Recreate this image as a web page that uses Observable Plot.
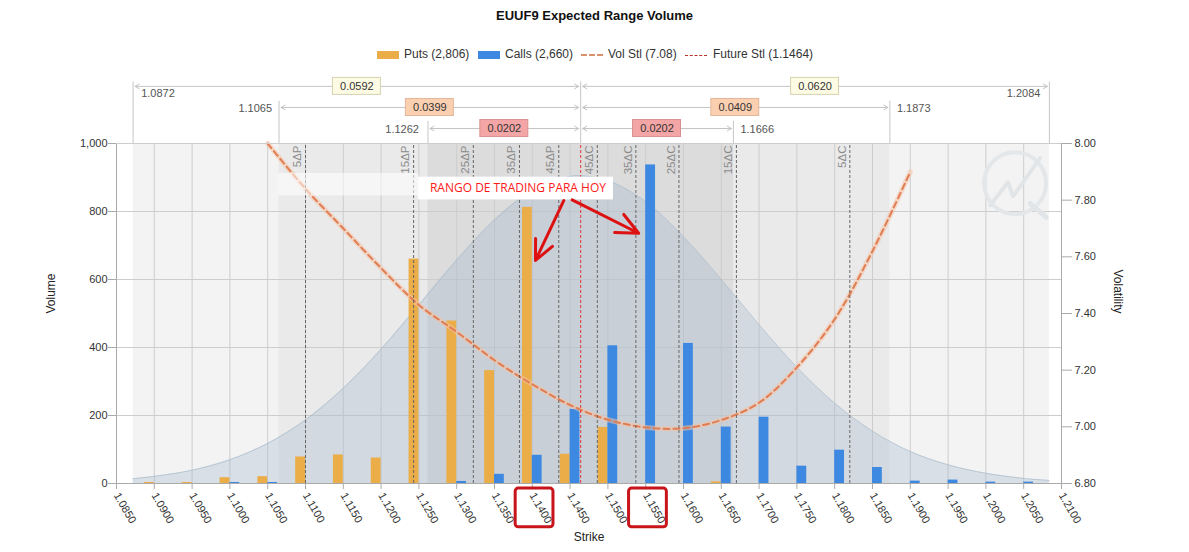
<!DOCTYPE html>
<html><head><meta charset="utf-8">
<script src="https://cdn.jsdelivr.net/npm/d3@7"></script>
<script src="https://cdn.jsdelivr.net/npm/@observablehq/plot@0.6"></script>
<style>
body{margin:0;background:#fff;font-family:"Liberation Sans",Arial,sans-serif;}
#wrap{position:relative;width:1189px;height:552px;overflow:hidden;background:#fff;}
#title{position:absolute;top:8px;left:0;width:1189px;text-align:center;font-weight:bold;font-size:13px;line-height:16px;color:#111;}
.lg{position:absolute;top:47px;font-size:12px;line-height:14px;color:#333;white-space:nowrap;}
.sw{position:absolute;top:51px;height:8px;width:22px;}
.ln{position:absolute;width:22px;height:0;}
#chart{position:absolute;top:68px;left:0;}
</style></head>
<body>
<div id="wrap">
  <div id="title">EUUF9 Expected Range Volume</div>
  <div id="legend"></div>
  <div id="chart"></div>
</div>
<script>
// ---------- data ----------
const strikes = [1.0900,1.0950,1.1000,1.1050,1.1100,1.1150,1.1200,1.1250,1.1300,1.1350,1.1400,1.1450,
                 1.1500,1.1550,1.1600,1.1650,1.1700,1.1750,1.1800,1.1850,1.1900,1.1950,1.2000,1.2050];
const putVolume  = [3,3,17,20,78,84,75,660,478,332,812,86,165,0,0,5,0,0,0,0,0,0,0,0];
const callVolume = [0,0,3,3,0,0,0,0,6,27,83,218,405,937,412,166,195,51,98,47,7,10,4,4];

const volStrikes = [1.105,1.110,1.115,1.120,1.125,1.130,1.135,1.140,1.145,1.150,1.155,1.160,1.165,1.170,1.175,1.180,1.185,1.190];
const volValues  = [8.00,7.84,7.70,7.56,7.43,7.335,7.235,7.15,7.077,7.025,6.998,6.995,7.024,7.085,7.21,7.38,7.62,7.90];

const distStrikes = [1.0872,1.0900,1.0950,1.1000,1.1050,1.1100,1.1150,1.1200,1.1250,1.1300,1.1350,1.1400,1.1450,1.1464,
                     1.1500,1.1550,1.1600,1.1650,1.1700,1.1750,1.1800,1.1850,1.1900,1.1950,1.2000,1.2050,1.2084];
const distValues  = [14,21,39,70,118,187,280,395,525,657,775,862,903,905,891,829,726,600,467,342,236,154,94,55,30,15,9];

const deltaLabels  = ["5ΔP","15ΔP","25ΔP","35ΔP","45ΔP","45ΔC","35ΔC","25ΔC","15ΔC","5ΔC"];
const deltaStrikes = [1.1100,1.1243,1.1322,1.1383,1.1435,1.1486,1.1537,1.1594,1.1670,1.1820];

const futureStl = 1.1464;
const rangeLow       = [1.0872,1.1065,1.1262];
const rangeHigh      = [1.2084,1.1873,1.1666];
const rangeLowWidth  = ["0.0592","0.0399","0.0202"];
const rangeHighWidth = ["0.0620","0.0409","0.0202"];

const xTickLabels = ["1.0850","1.0900","1.0950","1.1000","1.1050","1.1100","1.1150","1.1200","1.1250","1.1300",
  "1.1350","1.1400","1.1450","1.1500","1.1550","1.1600","1.1650","1.1700","1.1750","1.1800","1.1850","1.1900",
  "1.1950","1.2000","1.2050","1.2100"];
const volumeTicks = [0,200,400,600,800,1000];
const volTicks = [6.8,7.0,7.2,7.4,7.6,7.8,8.0];
const highlightStrikes = [1.1400,1.1550];

const legendLabels = ["Puts (2,806)","Calls (2,660)","Vol Stl (7.08)","Future Stl (1.1464)"];

const annotationText = "RANGO DE TRADING PARA HOY";
const annotationArrows = [
  {x1:1.14416, y1:832, x2:1.14042, y2:656},
  {x1:1.14527, y1:834, x2:1.15407, y2:736}
];
const watermarkCircle = [{x:1.20386, y:883}];
const watermarkBolt = [{x:1.20056,y:818},{x:1.20293,y:886},{x:1.20360,y:845},{x:1.20717,y:957}];
const watermarkTail = [{x:1.20585,y:824},{x:1.20797,y:783}];

// ---------- styles ----------
const PUT = "#ebad47", CALL = "#3d88e0";
const VOLC = "#e07d52";
const boxFill = ["#fdfbe3","#fbd0b1","#f4a5a5"];
const boxStroke = ["#d6d2b0","#e3b598","#d98f8f"];

// ---------- legend ----------
const legend = document.getElementById("legend");
const L = [
  {kind:"sw", color:PUT, x:377, tx:404},
  {kind:"sw", color:CALL, x:478, tx:505},
  {kind:"ln", style:"border-top:2px dashed #d9916c;top:54px;", x:581, tx:608},
  {kind:"ln", style:"border-top:1px dashed #b8322c;top:55px;", x:685, tx:713}
];
L.forEach((d,i)=>{
  const s = document.createElement("div");
  s.className = d.kind;
  if (d.kind === "sw") { s.style.left = d.x + "px"; s.style.background = d.color; }
  else s.setAttribute("style", d.style + "left:" + d.x + "px");
  legend.appendChild(s);
  const t = document.createElement("div");
  t.className = "lg"; t.style.left = d.tx + "px"; t.textContent = legendLabels[i];
  legend.appendChild(t);
});

// ---------- derived tables ----------
const volToY = v => (v - 6.8) / (8.0 - 6.8) * 1000;
const yToVol = y => 6.8 + y / 1000 * (8.0 - 6.8);
const bw = 0.0013;
const puts  = strikes.map((s,i)=>({s, v: putVolume[i]})).filter(d=>d.v>0);
const calls = strikes.map((s,i)=>({s, v: callVolume[i]})).filter(d=>d.v>0);
const vol = volStrikes.map((s,i)=>({s, y: volToY(volValues[i])}));
const dist = distStrikes.map((s,i)=>({s, v: distValues[i]}));
const deltas = deltaStrikes.map((s,i)=>({s, label: deltaLabels[i]}));
const xTicks = xTickLabels.map(Number);

const rowY = [1168, 1106, 1044];
const rowTop = [1181, 1124, 1065];
const rows = rangeLow.map((lo,i)=>({i, lo, hi: rangeHigh[i], y: rowY[i], top: rowTop[i]}));
const boxes = rows.flatMap(r => [
  {cx:(r.lo+futureStl)/2, y:r.y, t:rangeLowWidth[r.i], i:r.i},
  {cx:(futureStl+r.hi)/2, y:r.y, t:rangeHighWidth[r.i], i:r.i}
]);
const segs = rows.flatMap(r => {
  const m1 = (r.lo+futureStl)/2, m2 = (futureStl+r.hi)/2;
  return [{x1:m1,x2:r.lo,y:r.y},{x1:m1,x2:futureStl,y:r.y},{x1:m2,x2:futureStl,y:r.y},{x1:m2,x2:r.hi,y:r.y}];
});
const boundRules = rows.flatMap(r => [{x:r.lo, top:r.top},{x:r.hi, top:r.top}]).concat([{x:futureStl, top:rowTop[0]}]);
const fmt4 = d3.format(".4f");

const bands = [
  {x1:rangeLow[0], x2:rangeHigh[0], fill:"#f3f3f3"},
  {x1:rangeLow[1], x2:rangeHigh[1], fill:"#eaeaea"},
  {x1:rangeLow[2], x2:rangeHigh[2], fill:"#dcdcdc"}
];

const FONT = '"Liberation Sans", Arial, sans-serif';
const bText = {text: d=>fmt4(d.x), fill:"#555", fontSize:11};

const chart = Plot.plot({
  width: 1189, height: 484,
  marginLeft: 116, marginRight: 128, marginTop: 75, marginBottom: 69,
  x: {domain:[1.085,1.21], axis:null},
  y: {domain:[0,1000]},
  style: {fontFamily: FONT, fontSize:"11px", color:"#333", background:"transparent", overflow:"visible"},
  marks: [
    // background bands
    Plot.rect(bands, {x1:"x1", x2:"x2", y1:0, y2:1000, fill: d=>d.fill}),
    // grid
    Plot.ruleX(xTicks, {y1:0, y2:1000, stroke:"#cdcdcd", strokeWidth:1}),
    Plot.ruleY(volumeTicks.slice(1), {x1:1.085, x2:1.21, stroke:"#cdcdcd"}),
    // distribution
    Plot.areaY(dist, {x:"s", y:"v", fill:"#9db4c9", fillOpacity:0.3, curve:"catmull-rom"}),
    Plot.line(dist, {x:"s", y:"v", stroke:"#a9bccc", strokeWidth:0.7, curve:"catmull-rom"}),
    // bars
    Plot.rectY(puts,  {x1: d=>d.s-bw, x2: d=>d.s, y:"v", fill:PUT}),
    Plot.rectY(calls, {x1: d=>d.s, x2: d=>d.s+bw, y:"v", fill:CALL}),
    // vol curve
    Plot.line(vol, {x:"s", y:"y", stroke:"#f6c2a6", strokeWidth:5, strokeOpacity:0.55, curve:"catmull-rom"}),
    Plot.line(vol, {x:"s", y:"y", stroke:VOLC, strokeWidth:2, strokeDasharray:"6,4", curve:"catmull-rom"}),
    // delta lines
    Plot.ruleX(deltas, {x:"s", y1:0, y2:1000, stroke:"#666", strokeWidth:1, strokeDasharray:"3,2"}),
    Plot.text(deltas, {x:"s", y:1000, text:"label", rotate:-90, textAnchor:"end", dx:-8, dy:2, fill:"#8a8a8a", fontSize:11.5}),
    // future line
    Plot.ruleX([futureStl], {y1:0, y2:1000, stroke:"#e0383b", strokeWidth:1, strokeDasharray:"3,2"}),
    // frame
    Plot.ruleX([1.085, 1.21], {y1:0, y2:1000, stroke:"#aaa"}),
    Plot.ruleY([0], {x1:1.085, x2:1.21, stroke:"#aaa"}),
    Plot.ruleY([1000], {x1:1.085, x2:1.21, stroke:"#cdcdcd"}),
    // axes
    Plot.axisY(volumeTicks, {anchor:"left", tickSize:8, tickPadding:1, tickFormat:d3.format(","), label:null, stroke:"#aaa", fill:"#333", fontSize:11}),
    Plot.axisY(volTicks.map(volToY), {anchor:"right", tickSize:10, tickPadding:3, tickFormat: d=>yToVol(d).toFixed(2), label:null, stroke:"#aaa", fill:"#333", fontSize:11}),
    Plot.ruleX(xTicks, {y1:0, y2:-17.6, stroke:"#aaa"}),
    Plot.text(xTickLabels, {x: d=>+d, y:0, text: d=>d, rotate:60, textAnchor:"start", lineAnchor:"middle", dy:10, dx:0, fill:"#333", fontSize:11}),
    Plot.text(["Volume"], {frameAnchor:"left", dx:-65, rotate:-90, fill:"#222", fontSize:12}),
    Plot.text(["Volatility"], {frameAnchor:"right", dx:56, rotate:90, fill:"#222", fontSize:12}),
    Plot.text(["Strike"], {frameAnchor:"bottom", dy:57, fill:"#222", fontSize:12}),
    // top range annotations
    Plot.ruleX(boundRules, {x:"x", y1:1000, y2:"top", stroke:"#c6c6c6"}),
    Plot.arrow(segs, {x1:"x1", x2:"x2", y1:"y", y2:"y", stroke:"#c4c4c4", strokeWidth:1, headLength:7, insetEnd:2}),
    Plot.rect(boxes, {x1: d=>d.cx-0.00317, x2: d=>d.cx+0.00317, y1: d=>d.y-25, y2: d=>d.y+25, fill: d=>boxFill[d.i], stroke: d=>boxStroke[d.i]}),
    Plot.text(boxes, {x:"cx", y:"y", text:"t", fill:"#333", fontSize:11}),
    Plot.text([{x:rangeLow[0], y:rowY[0]}], {...bText, x:"x", y:"y", dx:8, dy:7, textAnchor:"start"}),
    Plot.text([{x:rangeHigh[0], y:rowY[0]}], {...bText, x:"x", y:"y", dx:-9, dy:7, textAnchor:"end"}),
    Plot.text([{x:rangeLow[1], y:rowY[1]}], {...bText, x:"x", y:"y", dx:-7, dy:1, textAnchor:"end"}),
    Plot.text([{x:rangeHigh[1], y:rowY[1]}], {...bText, x:"x", y:"y", dx:7, dy:1, textAnchor:"start"}),
    Plot.text([{x:rangeLow[2], y:rowY[2]}], {...bText, x:"x", y:"y", dx:-9, dy:1, textAnchor:"end"}),
    Plot.text([{x:rangeHigh[2], y:rowY[2]}], {...bText, x:"x", y:"y", dx:7, dy:1, textAnchor:"start"}),
    // watermark
    Plot.dot(watermarkCircle, {x:"x", y:"y", r:31, stroke:"#e4e7ea", strokeWidth:4, fill:"none"}),
    Plot.line(watermarkBolt, {x:"x", y:"y", stroke:"#e2e5e8", strokeWidth:4}),
    Plot.line(watermarkTail, {x:"x", y:"y", stroke:"#e2e5e8", strokeWidth:5}),
    // annotation
    Plot.rect([0], {x1:1.10645, x2:1.12496, y1:846, y2:912, fill:"white", fillOpacity:0.55}),
    Plot.rect([0], {x1:1.12496, x2:1.15073, y1:834, y2:901, fill:"white"}),
    Plot.text([annotationText], {x:1.1381, y:868, fill:"#ff1a1a", fontSize:12, fontFamily:"Open Sans"}),
    Plot.arrow(annotationArrows, {x1:"x1", y1:"y1", x2:"x2", y2:"y2", stroke:"#dd1111", strokeWidth:3, headLength:12, headAngle:50}),
    // highlight boxes around tick labels
    Plot.rect(highlightStrikes, {x1: d=>d-0.0022, x2: d=>d+0.0028, y1:-15, y2:-129, stroke:"#c8141b", strokeWidth:3, fill:"none", rx:3})
  ]
});
document.getElementById("chart").appendChild(chart);
</script>
</body></html>
